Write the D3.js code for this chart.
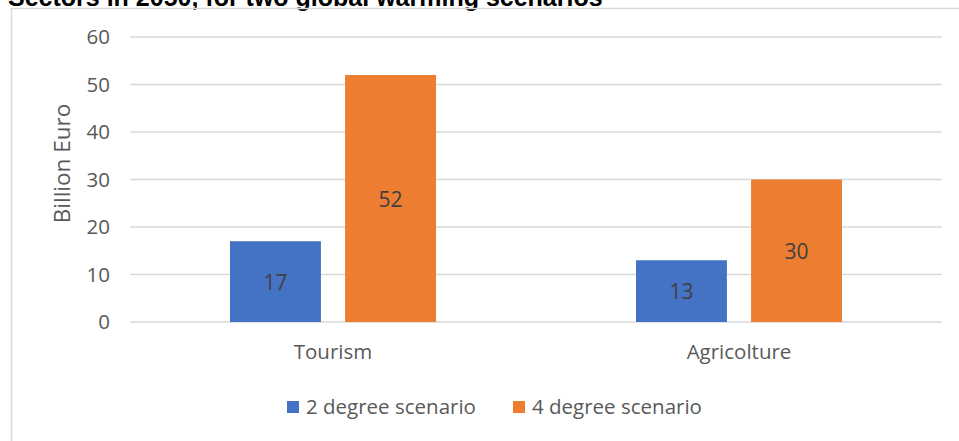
<!DOCTYPE html>
<html>
<head>
<meta charset="utf-8">
<script src="https://cdn.jsdelivr.net/npm/d3@7"></script>
<style>
  body { margin: 0; background: #fff; }
  svg { display: block; }
</style>
</head>
<body>
<div id="chart"></div>
<script>
// data
var sectors = ["Tourism", "Agricolture"];
var scenarios = ["2 degree scenario", "4 degree scenario"];
var twoDegree = [17, 13];
var fourDegree = [52, 30];
var yTicks = [0, 10, 20, 30, 40, 50, 60];
var colors = ["#4472c4", "#ed7d31"];

var font = "'Open Sans', sans-serif";

var W = 959, H = 441;
var margin = {top: 37, right: 17, bottom: 119, left: 130},
    width = W - margin.left - margin.right,
    height = H - margin.top - margin.bottom;

var svg = d3.select("#chart").append("svg")
    .attr("width", W)
    .attr("height", H);

// title, cut off at top like the original
svg.append("text")
    .attr("x", 8)
    .attr("y", 6)
    .style("font-family", "Liberation Sans, Arial, sans-serif")
    .style("font-weight", "bold")
    .style("font-size", "25px")
    .style("fill", "#000")
    .text("Sectors in 2050, for two global warming scenarios");

// chart border (only top and left visible)
svg.append("path")
    .attr("d", "M11.5,441 V8.5 H959")
    .attr("fill", "none")
    .attr("stroke", "#d9d9d9")
    .attr("stroke-width", 1.5);

var g = svg.append("g")
    .attr("transform", "translate(" + margin.left + "," + margin.top + ")");

var x0 = d3.scaleBand().domain(sectors).range([0, width]);
var x1 = d3.scaleBand().domain(scenarios).range([0, 206]).paddingInner(0.21);
var y = d3.scaleLinear().domain([0, 60]).range([height, 0]);

// gridlines
g.append("g")
    .selectAll("line")
    .data(yTicks)
    .enter().append("line")
    .attr("x1", 0)
    .attr("x2", width)
    .attr("y1", function(d) { return y(d); })
    .attr("y2", function(d) { return y(d); })
    .attr("stroke", "#d9d9d9")
    .attr("stroke-width", 1.5);

// y axis labels
var yAxis = g.append("g")
    .call(d3.axisLeft(y).tickValues(yTicks).tickSize(0).tickPadding(20));
yAxis.select(".domain").remove();
yAxis.selectAll("text")
    .style("font-family", font)
    .style("font-size", "20.5px")
    .style("fill", "#595959");

// y axis title
g.append("text")
    .attr("transform", "rotate(-90)")
    .attr("x", -height / 2 + 16)
    .attr("y", -60)
    .attr("text-anchor", "middle")
    .style("font-family", font)
    .style("font-size", "22.5px")
    .style("fill", "#595959")
    .text("Billion Euro");

// bars
var rows = sectors.map(function(s, i) {
    return {sector: s, values: [twoDegree[i], fourDegree[i]]};
});

var groups = g.selectAll(".group")
    .data(rows)
    .enter().append("g")
    .attr("class", "group")
    .attr("transform", function(d) {
        return "translate(" + (x0(d.sector) + x0.bandwidth() / 2 - 103) + ",0)";
    });

groups.selectAll("rect")
    .data(function(d) { return d.values.map(function(v, j) { return {s: scenarios[j], v: v, j: j}; }); })
    .enter().append("rect")
    .attr("x", function(d) { return x1(d.s); })
    .attr("y", function(d) { return y(d.v); })
    .attr("width", x1.bandwidth())
    .attr("height", function(d) { return height - y(d.v); })
    .attr("fill", function(d) { return colors[d.j]; });

groups.selectAll(".lbl")
    .data(function(d) { return d.values.map(function(v, j) { return {s: scenarios[j], v: v, j: j}; }); })
    .enter().append("text")
    .attr("class", "lbl")
    .attr("x", function(d) { return x1(d.s) + x1.bandwidth() / 2; })
    .attr("y", function(d) { return (y(d.v) + height) / 2 + 1; })
    .attr("dy", "0.35em")
    .attr("text-anchor", "middle")
    .style("font-family", font)
    .style("font-size", "21px")
    .style("fill", "#404040")
    .text(function(d) { return d.v; });

// x axis labels
var xAxis = g.append("g")
    .attr("transform", "translate(0," + height + ")")
    .call(d3.axisBottom(x0).tickSize(0).tickPadding(22));
xAxis.select(".domain").remove();
xAxis.selectAll("text")
    .style("font-family", font)
    .style("font-size", "20.5px")
    .style("fill", "#595959");

// legend
var legendX = [287, 513];
var legend = svg.selectAll(".legend")
    .data(scenarios)
    .enter().append("g")
    .attr("class", "legend")
    .attr("transform", function(d, i) { return "translate(" + legendX[i] + ",401)"; });

legend.append("rect")
    .attr("width", 12)
    .attr("height", 12)
    .attr("fill", function(d, i) { return colors[i]; });

legend.append("text")
    .attr("x", 19)
    .attr("y", 6)
    .attr("dy", "0.35em")
    .style("font-family", font)
    .style("font-size", "20.5px")
    .style("fill", "#595959")
    .text(function(d) { return d; });
</script>
</body>
</html>
